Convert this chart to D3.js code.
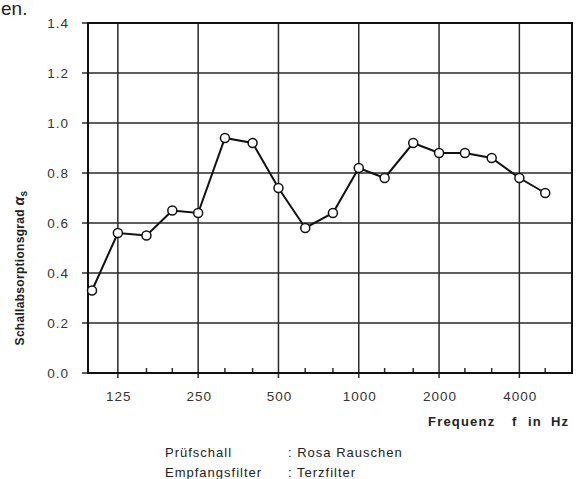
<!DOCTYPE html>
<html lang="de">
<head>
    <meta charset="UTF-8">
    <title>Schallabsorptionsgrad</title>
    <style>
        body { margin: 0; background: #fff; }
        text { font-family: 'Liberation Sans', Arial, sans-serif; fill: #333; }
        .grid { stroke: #2a2a2a; stroke-width: 1.5px; fill: none; }
        .frame { stroke: #111; stroke-width: 2px; fill: none; }
        .line { fill: none; stroke: #111; stroke-width: 2px; }
        circle { fill: #fff; stroke: #111; stroke-width: 1.5px; }
        .tick { font-size: 13.5px; letter-spacing: 1px; }
        .note { font-size: 13px; letter-spacing: 1px; fill: #222; }
    </style>
</head>
<body>
<script src="https://cdnjs.cloudflare.com/ajax/libs/d3/7.8.5/d3.min.js"></script>
<script>

    const width = 579;
    const height = 479;

    // third-octave centre frequencies
    const freqs = [100, 125, 160, 200, 250, 315, 400, 500, 630, 800, 1000, 1250, 1600, 2000, 2500, 3150, 4000, 5000];
    const alphaS = [0.33, 0.56, 0.55, 0.65, 0.64, 0.94, 0.92, 0.74, 0.58, 0.64, 0.82, 0.78, 0.92, 0.88, 0.88, 0.86, 0.78, 0.72];

    const xTicks = [125, 250, 500, 1000, 2000, 4000];
    const minorTicks = [160, 200, 315, 400, 630, 800, 1250, 1600, 2500, 3150, 5000];
    const yTicks = [0.0, 0.2, 0.4, 0.6, 0.8, 1.0, 1.2, 1.4];

    const xTitle = [['Frequenz', 428], ['f', 512], ['in', 528], ['Hz', 551]];
    const notes = [['Prüfschall', ': Rosa Rauschen'], ['Empfangsfilter', ': Terzfilter']];

    const plot = {'left': 88, 'right': 572, 'top': 23, 'bottom': 373};

    let svg = d3.select('body').append('svg')
        .attr('width', width)
        .attr('height', height);

    let x = d3.scaleLog()
        .base(2)
        .domain([96.6, 6300])
        .range([plot.left, plot.right]);

    let y = d3.scaleLinear()
        .domain([0, 1.4])
        .range([plot.bottom, plot.top]);

    // fragment of the text above the chart
    svg.append('text')
        .attr('x', 1)
        .attr('y', 15)
        .text('en.')
        .style('font-size', '19px')
        .style('fill', '#222');

    // horizontal grid + y labels
    let yAxis = svg.append('g');
    yTicks.forEach(function(t) {
        yAxis.append('line')
            .classed('grid', true)
            .attr('x1', plot.left - 6)
            .attr('x2', plot.right)
            .attr('y1', y(t))
            .attr('y2', y(t));
        yAxis.append('text')
            .classed('tick', true)
            .attr('x', 69)
            .attr('y', y(t) + 5)
            .attr('text-anchor', 'end')
            .text(t.toFixed(1));
    });

    // vertical grid + x labels
    let xAxis = svg.append('g');
    xTicks.forEach(function(t) {
        xAxis.append('line')
            .classed('grid', true)
            .attr('x1', x(t))
            .attr('x2', x(t))
            .attr('y1', plot.top)
            .attr('y2', plot.bottom + 5);
        xAxis.append('text')
            .classed('tick', true)
            .attr('x', x(t) + 1)
            .attr('y', plot.bottom + 28)
            .attr('text-anchor', 'middle')
            .text(t);
    });

    minorTicks.forEach(function(t) {
        xAxis.append('line')
            .classed('grid', true)
            .attr('x1', x(t))
            .attr('x2', x(t))
            .attr('y1', plot.bottom)
            .attr('y2', plot.bottom - 5);
    });

    // frame
    svg.append('rect')
        .classed('frame', true)
        .attr('x', plot.left)
        .attr('y', plot.top)
        .attr('width', plot.right - plot.left)
        .attr('height', plot.bottom - plot.top);

    // data
    let data = freqs.map(function(f, i) { return {'f': f, 'v': alphaS[i]}; });

    svg.append('path')
        .datum(data)
        .classed('line', true)
        .attr('d', d3.line()
            .x(function(d) { return x(d.f); })
            .y(function(d) { return y(d.v); })
        );

    svg.selectAll('circle')
        .data(data)
        .enter()
        .append('circle')
        .attr('cx', function(d) { return x(d.f); })
        .attr('cy', function(d) { return y(d.v); })
        .attr('r', 4.5);

    // axis titles
    let yTitle = svg.append('text')
        .attr('transform', 'translate(24,268) rotate(-90)')
        .attr('text-anchor', 'middle')
        .style('font-size', '12px')
        .style('font-weight', 'bold')
        .style('letter-spacing', '0.3px')
        .style('fill', '#222');
    yTitle.append('tspan').text('Schallabsorptionsgrad ');
    yTitle.append('tspan').text('α').style('font-style', 'italic').style('font-size', '14px');
    yTitle.append('tspan').text('s').attr('dy', 3).style('font-size', '10px');

    xTitle.forEach(function(w) {
        svg.append('text')
            .attr('x', w[1])
            .attr('y', 426)
            .text(w[0])
            .style('font-size', '13px')
            .style('font-weight', 'bold')
            .style('letter-spacing', '1.2px')
            .style('fill', '#222');
    });

    // test conditions
    notes.forEach(function(n, i) {
        svg.append('text')
            .classed('note', true)
            .attr('x', 165)
            .attr('y', 457 + 20 * i)
            .text(n[0]);
        svg.append('text')
            .classed('note', true)
            .attr('x', 288)
            .attr('y', 457 + 20 * i)
            .text(n[1]);
    });

</script>
</body>
</html>
